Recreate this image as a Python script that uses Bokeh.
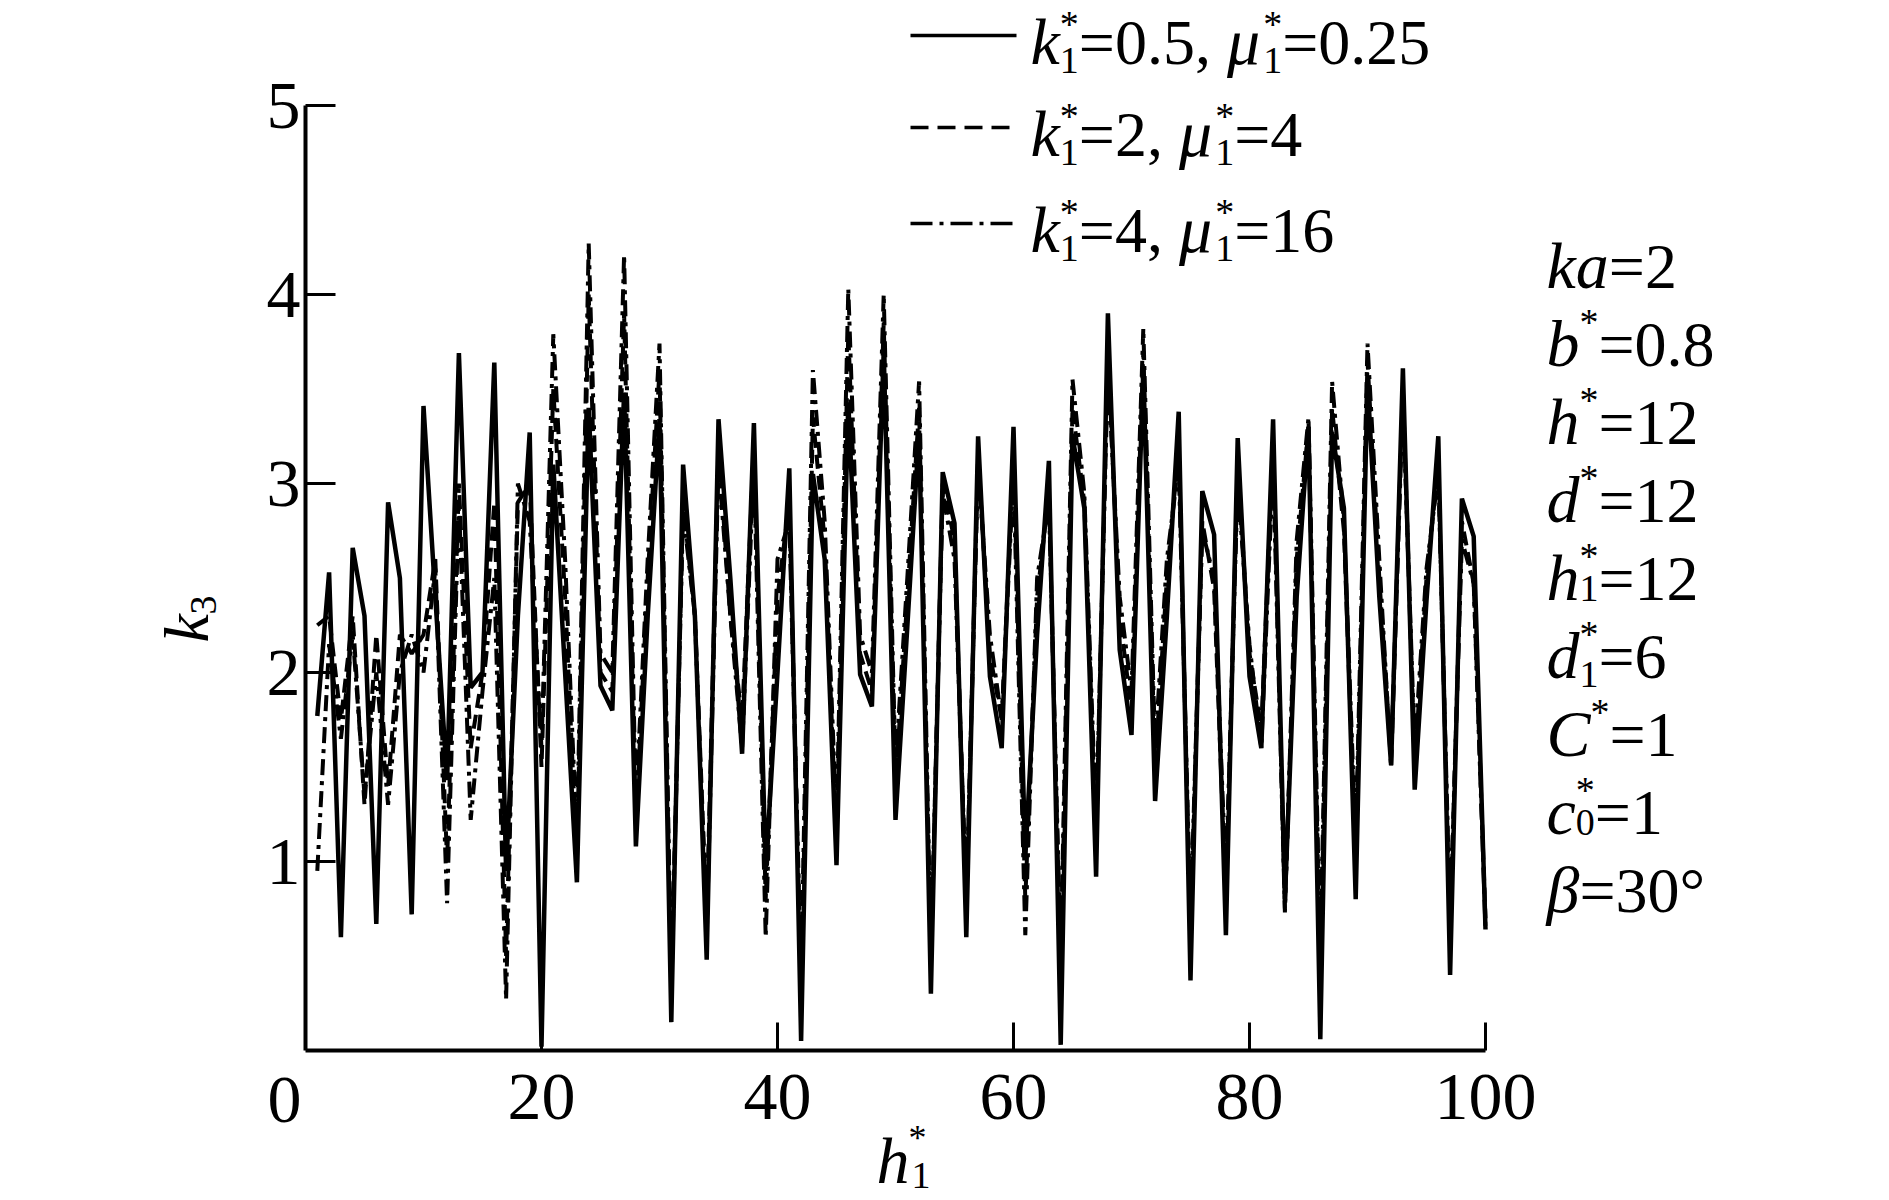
from math import pi
from bokeh.plotting import figure
from bokeh.models import Range1d, FixedTicker, Label, Arrow
from bokeh.embed import file_html
from bokeh.resources import INLINE

# ---------------- data ----------------
h1_star = list(range(1, 101))

k3_solid = [
    1.77, 2.53, 0.60, 2.66, 2.30, 0.67, 2.90, 2.50, 0.72, 3.41,
    2.40, 1.43, 3.69, 1.92, 2.00, 3.64, 0.95, 2.30, 3.27, 0.02,
    3.10, 2.00, 0.89, 3.40, 1.93, 1.80, 3.48, 1.08, 2.30, 3.34,
    0.15, 3.10, 2.30, 0.48, 3.34, 2.50, 1.57, 3.32, 0.95, 2.00,
    3.08, 0.05, 3.05, 2.60, 0.98, 3.43, 1.99, 1.82, 3.70, 1.22,
    2.24, 3.28, 0.30, 3.06, 2.79, 0.60, 3.25, 1.98, 1.60, 3.30,
    1.02, 2.20, 3.12, 0.03, 3.25, 2.87, 0.92, 3.90, 2.12, 1.67,
    3.60, 1.32, 2.30, 3.38, 0.37, 2.96, 2.73, 0.61, 3.24, 1.98,
    1.60, 3.34, 0.80, 2.40, 3.30, 0.06, 3.27, 2.87, 0.80, 3.54,
    2.40, 1.51, 3.61, 1.38, 2.38, 3.25, 0.40, 2.92, 2.72, 0.64,
]

k3_dashed = [
    2.25, 2.30, 1.75, 2.30, 1.30, 2.20, 1.40, 2.20, 2.10, 2.20,
    2.60, 1.00, 3.00, 1.60, 2.00, 2.90, 0.50, 2.90, 3.00, 1.50,
    3.50, 2.40, 1.00, 4.00, 2.00, 1.90, 3.90, 1.20, 2.50, 3.60,
    0.30, 2.90, 2.30, 0.70, 3.20, 2.30, 1.75, 3.20, 0.80, 2.40,
    2.90, 0.30, 3.35, 2.70, 1.10, 3.80, 2.10, 1.90, 3.85, 1.40,
    2.40, 3.40, 0.45, 3.00, 2.70, 0.75, 3.15, 2.10, 1.75, 3.15,
    0.80, 2.40, 2.95, 0.40, 3.40, 2.90, 1.10, 3.70, 2.30, 1.80,
    3.70, 1.50, 2.50, 3.20, 0.60, 2.80, 2.44, 0.80, 3.10, 2.10,
    1.70, 3.20, 0.75, 2.60, 3.30, 0.40, 3.40, 2.75, 1.00, 3.65,
    2.50, 1.55, 3.50, 1.50, 2.50, 3.10, 0.60, 2.80, 2.47, 0.70,
]

k3_dashdot = [
    0.95, 2.15, 1.65, 2.20, 1.35, 2.00, 1.30, 2.00, 2.20, 2.00,
    2.55, 0.78, 2.90, 1.22, 1.90, 2.50, 0.27, 3.00, 2.80, 1.60,
    3.79, 2.60, 1.10, 4.27, 2.10, 2.00, 4.21, 1.30, 2.60, 3.74,
    0.35, 2.85, 2.30, 0.60, 3.10, 2.30, 1.60, 3.10, 0.60, 2.60,
    2.80, 0.40, 3.60, 2.80, 1.20, 4.03, 2.20, 2.00, 4.00, 1.50,
    2.50, 3.54, 0.50, 2.95, 2.60, 0.80, 3.10, 2.20, 1.75, 3.05,
    0.61, 2.50, 2.90, 0.50, 3.55, 2.95, 1.20, 3.60, 2.40, 1.90,
    3.82, 1.60, 2.60, 3.10, 0.70, 2.75, 2.50, 0.90, 3.00, 2.15,
    1.60, 3.10, 0.73, 2.70, 3.35, 0.50, 3.54, 2.80, 1.10, 3.74,
    2.60, 1.50, 3.45, 1.60, 2.55, 3.05, 0.70, 2.70, 2.47, 0.64,
]

x_ticks = [20, 40, 60, 80, 100]
y_ticks = [1, 2, 3, 4, 5]
x_bounds = (0, 100)
y_bounds = (0, 5)

legend_k1 = ["0.5", "2", "4"]
legend_mu1 = ["0.25", "4", "16"]

# ---------------- layout (pixel geometry of the page) ----------------
CW, CH = 1880, 1198           # canvas
PX0, PX1 = 305.0, 1485.0      # screen x of h=0 and h=100
PY0, PY5 = 1050.0, 105.0      # screen y of k=0 and k=5
sx = (PX1 - PX0) / 100.0
sy = (PY0 - PY5) / 5.0
FONT = "Liberation Serif"

p = figure(frame_width=CW, frame_height=CH,
           x_range=Range1d(-PX0 / sx, (CW - PX0) / sx),
           y_range=Range1d(-(CH - PY0) / sy, PY0 / sy),
           output_backend="svg", toolbar_location=None,
           min_border=0, min_border_left=0, min_border_right=0,
           min_border_top=0, min_border_bottom=0)
p.outline_line_color = None
p.xgrid.visible = False
p.ygrid.visible = False
p.background_fill_color = "white"
p.border_fill_color = "white"

p.xaxis[0].fixed_location = 0
p.yaxis[0].fixed_location = 0
p.xaxis[0].bounds = x_bounds
p.yaxis[0].bounds = y_bounds

for ax, ticks, tin, stand in ((p.xaxis[0], x_ticks, 28, 24), (p.yaxis[0], y_ticks, 30, 5)):
    ax.ticker = FixedTicker(ticks=ticks)
    ax.major_tick_in = tin
    ax.major_tick_out = 0
    ax.minor_tick_line_color = None
    ax.axis_line_width = 4
    ax.axis_line_color = "black"
    ax.major_tick_line_width = 3
    ax.major_tick_line_color = "black"
    ax.major_label_text_font = FONT
    ax.major_label_text_font_size = "68px"
    ax.major_label_text_color = "black"
    ax.major_label_standoff = stand

# ---------------- curves ----------------
p.line(h1_star, k3_dashdot, line_color="black", line_width=4, line_dash="16 6 4 6")
p.line(h1_star, k3_dashed, line_color="black", line_width=4, line_dash="14 7")
p.line(h1_star, k3_solid, line_color="black", line_width=4.5)


# ---------------- text helpers ----------------
def X2D(X):
    return (X - PX0) / sx


def Y2D(Y):
    return (PY0 - Y) / sy


ADV = {"0": .5, "1": .5, "2": .5, "3": .5, "4": .5, "5": .5, "6": .5, "8": .5,
       "=": .564, ".": .25, ",": .25, " ": .25, "*": .5, "°": .4,
       "k": .444, "a": .5, "b": .5, "h": .5, "d": .5, "c": .444, "C": .667,
       "μ": .55, "β": .5}

BASE_FIX = 0.30   # renderer places the alphabetic baseline ~0.3 em low


def label(X, Y, text, size, style="normal", angle=0.0, align="left"):
    if angle == 0.0:
        Y = Y - BASE_FIX * size
    else:
        X = X - BASE_FIX * size
    p.add_layout(Label(x=X2D(X), y=Y2D(Y), text=text, text_font=FONT,
                       text_font_size=f"{size}px", text_font_style=style,
                       text_color="black", text_baseline="alphabetic",
                       text_align=align, angle=angle))


def runs(X, Y, items):
    x = X
    for it in items:
        text, size, style, dy = it[:4]
        label(x, Y + dy, text, size, style)
        adv = it[4] if len(it) > 4 else sum(ADV.get(c, .5) for c in text) * size
        x += adv


IT, NM, SM = 66, 64, 38
SUP, SUB = -30, 10
LSUP = -26

# legend
leg_dash = [None, "18 9", "22 7 4 7"]
leg_y = [35, 127, 223]
for i in range(3):
    ly = leg_y[i]
    arr = Arrow(end=None, x_start=X2D(910), y_start=Y2D(ly), x_end=X2D(1016), y_end=Y2D(ly),
                line_color="black", line_width=3.5)
    if leg_dash[i]:
        arr.line_dash = leg_dash[i]
    p.add_layout(arr)
    runs(1030, ly + 26, [
        ("k", IT, "italic", 0), ("*", SM, "normal", LSUP, 0), ("1", SM, "normal", SUB),
        ("=" + legend_k1[i] + ", ", NM, "normal", 0),
        ("μ", IT, "italic", 0), ("*", SM, "normal", LSUP, 0), ("1", SM, "normal", SUB),
        ("=" + legend_mu1[i], NM, "normal", 0),
    ])

# parameter block on the right
params = [
    [("ka", IT, "italic", 0), ("=2", NM, "normal", 0)],
    [("b", IT, "italic", 0), ("*", SM, "normal", SUP), ("=0.8", NM, "normal", 0)],
    [("h", IT, "italic", 0), ("*", SM, "normal", SUP), ("=12", NM, "normal", 0)],
    [("d", IT, "italic", 0), ("*", SM, "normal", SUP), ("=12", NM, "normal", 0)],
    [("h", IT, "italic", 0), ("*", SM, "normal", SUP, 0), ("1", SM, "normal", 2), ("=12", NM, "normal", 0)],
    [("d", IT, "italic", 0), ("*", SM, "normal", SUP, 0), ("1", SM, "normal", SUB), ("=6", NM, "normal", 0)],
    [("C", IT, "italic", 0), ("*", SM, "normal", SUP), ("=1", NM, "normal", 0)],
    [("c", IT, "italic", 0), ("*", SM, "normal", SUP, 0), ("0", SM, "normal", 2), ("=1", NM, "normal", 0)],
    [("β", IT, "italic", 0), ("=30°", NM, "normal", 0)],
]
for i, items in enumerate(params):
    runs(1546, 285 + 78 * i, items)

# corner zero
label(284, 1120, "0", 68, align="center")

# x axis title h1*
label(876, 1180, "h", 66, "italic")
label(908, 1148, "*", 36)
label(911, 1186, "1", 38)

# y axis title k3 (rotated, reading upwards)
label(205, 642, "k", 64, "italic", angle=pi / 2)
label(214, 614, "3", 38, angle=pi / 2)

open("out.html", "w").write(file_html(p, INLINE))
